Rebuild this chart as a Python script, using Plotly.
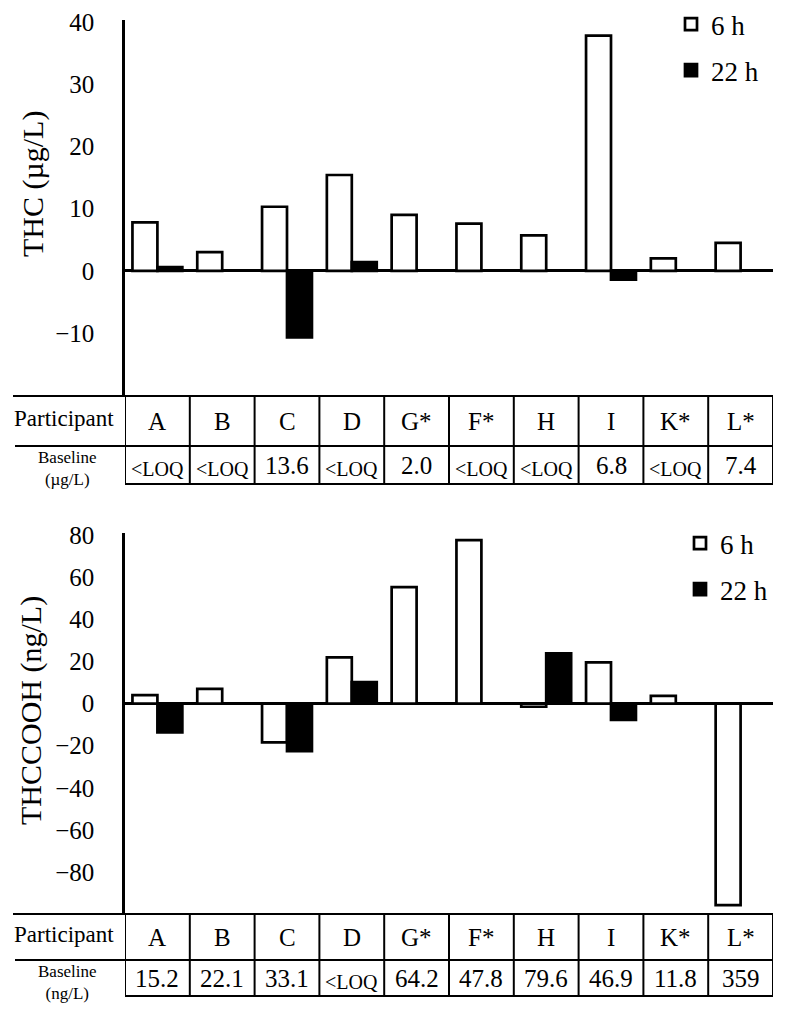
import plotly.graph_objects as go

# ---------------- data ----------------
participants = ["A", "B", "C", "D", "G*", "F*", "H", "I", "K*", "L*"]

thc_6h = [7.8, 3.0, 10.3, 15.4, 9.0, 7.6, 5.7, 37.8, 2.0, 4.5]
thc_22h = [0.6, None, -10.7, 1.4, None, None, None, -1.4, None, None]
thc_baseline = ["<LOQ", "<LOQ", "13.6", "<LOQ", "2.0", "<LOQ", "<LOQ", "6.8", "<LOQ", "7.4"]

cooh_6h = [4.0, 7.0, -18.4, 21.9, 55.3, 77.6, -1.5, 19.6, 3.7, -95.7]
cooh_22h = [-13.7, None, -22.6, 10.2, None, None, 23.8, -7.8, None, None]
cooh_baseline = ["15.2", "22.1", "33.1", "<LOQ", "64.2", "47.8", "79.6", "46.9", "11.8", "359"]

thc_ticks = [-10, 0, 10, 20, 30, 40]
cooh_ticks = [-80, -60, -40, -20, 0, 20, 40, 60, 80]

# ---------------- style / geometry ----------------
W, H = 800, 1013
FONT = "Liberation Serif"
X0, X1 = 125, 773


def px(x):
    return x / W


def py(y):
    return 1 - y / H


def f(size):
    return dict(family=FONT, size=size, color="black")


fig = go.Figure()

for xa, ya, v6, v22, leg in [("x", "y", thc_6h, thc_22h, "legend"),
                             ("x2", "y2", cooh_6h, cooh_22h, "legend2")]:
    fig.add_trace(go.Bar(x=participants, y=v6, name="6 h", xaxis=xa, yaxis=ya,
                         marker=dict(color="white", line=dict(color="black", width=2.7)),
                         legend=leg, legendgroup="g6" + xa))
    fig.add_trace(go.Bar(x=participants, y=v22, name="22 h", xaxis=xa, yaxis=ya,
                         marker=dict(color="black", line=dict(color="black", width=2.7)),
                         legend=leg, legendgroup="g22" + xa))


def xax(anchor):
    return dict(anchor=anchor, domain=[px(X0), px(X1)], type="category", range=[-0.5, 9.5],
                showticklabels=False, showgrid=False, zeroline=False,
                showline=False, ticks="", automargin=False)


def yax(anchor, top, bot, rng, tv):
    return dict(anchor=anchor, domain=[py(bot), py(top)], range=rng, tickvals=tv,
                showline=True, linecolor="black", linewidth=2.5,
                zeroline=True, zerolinecolor="black", zerolinewidth=2.5,
                showgrid=False, ticks="", ticklabelstandoff=23,
                tickfont=f(25), automargin=False)


fig.update_layout(
    width=W, height=H,
    margin=dict(l=0, r=0, t=0, b=0, autoexpand=False),
    paper_bgcolor="white", plot_bgcolor="white",
    barmode="group", bargap=0.23, bargroupgap=0,
    font=f(20),
    xaxis=xax("y"),
    yaxis=yax("x", 20, 396, [-20.1, 40.3], thc_ticks),
    xaxis2=xax("y2"),
    yaxis2=yax("x2", 533, 915, [-100.4, 81.0], cooh_ticks),
    legend=dict(x=px(671), xanchor="left", y=py(0), yanchor="top", font=f(27),
                bgcolor="rgba(0,0,0,0)", tracegroupgap=8, itemwidth=30),
    legend2=dict(x=px(680), xanchor="left", y=py(519), yanchor="top", font=f(27),
                 bgcolor="rgba(0,0,0,0)", tracegroupgap=8, itemwidth=30),
    showlegend=True,
)


def ann(text, x, y, size, xref="paper", yref="paper", **kw):
    fig.add_annotation(text=text, x=x, y=y, xref=xref, yref=yref, showarrow=False,
                       xanchor="center", yanchor="middle", font=f(size), **kw)


# y-axis titles
ann("THC (µg/L)", px(33), py(184), 30, textangle=-90)
ann("THCCOOH (ng/L)", px(31), py(711), 30, textangle=-90)


def add_table(xref, top, mid, bot, baseline_vals, unit):
    line = dict(color="black", width=2)
    fig.add_shape(type="line", xref="paper", yref="paper",
                  x0=px(13), x1=px(X1), y0=py(top), y1=py(top), line=line)
    fig.add_shape(type="line", xref="paper", yref="paper",
                  x0=px(15), x1=px(X1), y0=py(mid), y1=py(mid), line=line)
    fig.add_shape(type="line", xref="paper", yref="paper",
                  x0=px(X0), x1=px(X1), y0=py(bot), y1=py(bot), line=line)
    for k in range(len(participants) + 1):
        fig.add_shape(type="line", xref=xref, yref="paper",
                      x0=k - 0.5, x1=k - 0.5, y0=py(top), y1=py(bot), line=line)
    r1 = (top + mid) / 2
    r2 = (mid + bot) / 2
    ann("Participant", px(64), py(r1 - 3), 23)
    ann("Baseline<br>" + unit, px(67), py(r2 + 4), 17)
    for p, b in zip(participants, baseline_vals):
        ann(p, p, py(r1), 25, xref=xref)
        small = b.startswith("<")
        ann(b.replace("<", "&lt;"), p, py(r2), 20 if small else 25, xref=xref,
            yshift=-4 if small else 0)


add_table("x", 396, 446, 484, thc_baseline, "(µg/L)")
add_table("x2", 914, 960, 996, cooh_baseline, "(ng/L)")

fig.write_html("out.html", config={"displayModeBar": False},
               post_script="document.body.style.margin='0';")
